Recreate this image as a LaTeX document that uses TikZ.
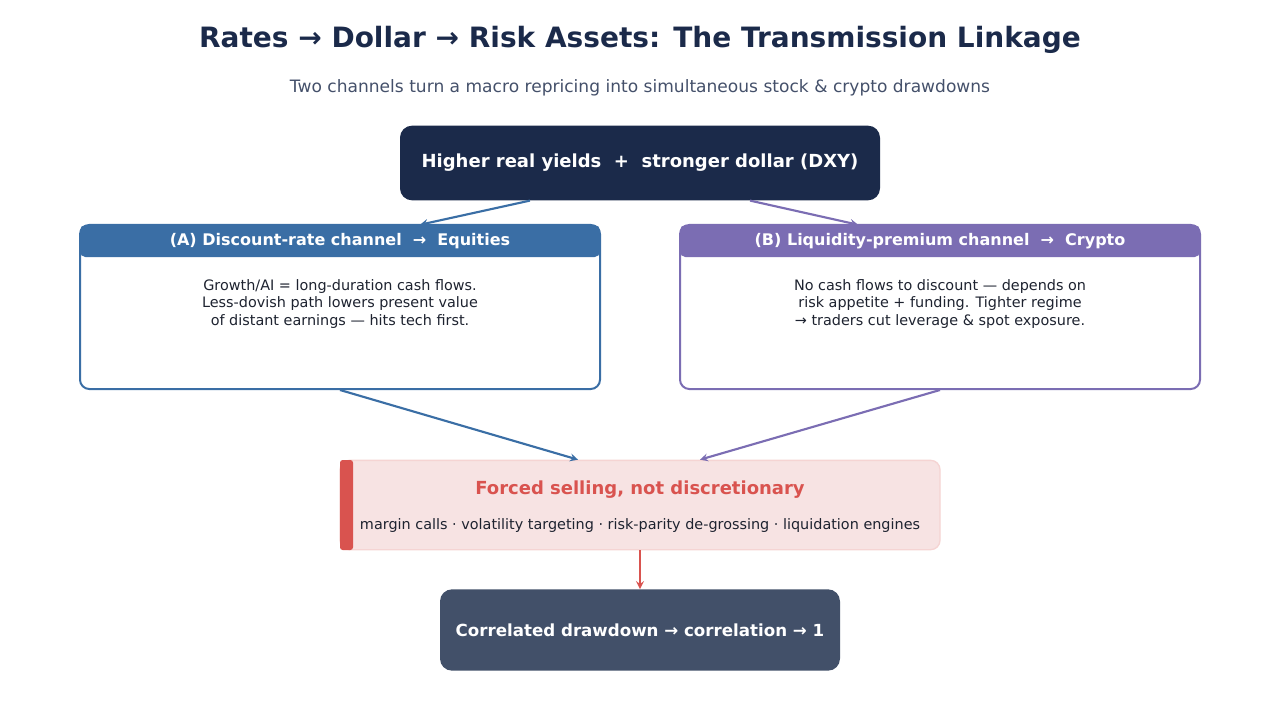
\documentclass[tikz,border=0pt]{standalone}
\usepackage{fontspec}
\setmainfont{DejaVu Sans}
\usetikzlibrary{positioning, calc}
\definecolor{navy}{HTML}{1B2A4A}
\definecolor{slate}{HTML}{425069}
\definecolor{blueA}{HTML}{3A6EA5}
\definecolor{purpleB}{HTML}{7B6DB3}
\definecolor{redF}{HTML}{D9534F}
\definecolor{pinkF}{HTML}{F7E3E3}
\definecolor{subgray}{HTML}{44506A}
\definecolor{ink}{HTML}{1E2330}

\begin{document}
\begin{tikzpicture}
[
	x=0.75pt, y=-0.75pt,
	darkbox/.style={rectangle, rounded corners=9pt, text=white, font=\bfseries\fontsize{13.5}{16}\selectfont, inner sep=0pt},
	card/.style={draw, line width=1.5pt, rectangle, rounded corners=7pt, fill=white, minimum width=390pt, minimum height=123pt, inner sep=0pt},
	cardhead/.style={rectangle, rounded corners=4pt, text=white, font=\bfseries\fontsize{12}{14}\selectfont, minimum width=390pt, minimum height=24pt, inner sep=0pt},
	cardtext/.style={align=center, text=ink, font=\fontsize{10.8}{13.2}\selectfont},
	link/.style={->, >=stealth, line width=1.6pt}
  ]
	\useasboundingbox (0,0) rectangle (1280,720);
	\node[font=\bfseries\fontsize{21}{25}\selectfont, text=navy] (Title) at (640,40) {Rates → Dollar → Risk Assets: The Transmission Linkage};
	\node[font=\fontsize{12.8}{15}\selectfont, text=subgray] (Sub) at (640,88) {Two channels turn a macro repricing into simultaneous stock \& crypto drawdowns};

	\node[darkbox, fill=navy, minimum width=360pt, minimum height=56pt] (Top) at (640,163) {Higher real yields \ +\ \ stronger dollar (DXY)};

	% channel cards
	\node[card, draw=blueA] (CardA) at (340,307) {};
	\node[cardhead, fill=blueA] (HeadA) at (340,241) {(A) Discount-rate channel \ →\ \ Equities};
	\node[cardtext] (TextA) at (340,304) {Growth/AI = long-duration cash flows.\\Less-dovish path lowers present value\\of distant earnings — hits tech first.};

	\node[card, draw=purpleB] (CardB) at (940,307) {};
	\node[cardhead, fill=purpleB] (HeadB) at (940,241) {(B) Liquidity-premium channel \ →\ \ Crypto};
	\node[cardtext] (TextB) at (940,304) {No cash flows to discount — depends on\\risk appetite + funding. Tighter regime\\→ traders cut leverage \& spot exposure.};

	% forced selling
	\node[rectangle, rounded corners=7pt, fill=pinkF, draw=redF!25, line width=1pt, minimum width=450pt, minimum height=67pt] (Forced) at (640,505) {};
	\fill[redF, rounded corners=2pt] (340,460) rectangle (353,550);
	\node[font=\bfseries\fontsize{13.5}{16}\selectfont, text=redF] (ForcedT) at (640,490) {Forced selling, not discretionary};
	\node[font=\fontsize{10.8}{13}\selectfont, text=ink] (ForcedS) at (640,526) {margin calls · volatility targeting · risk-parity de-grossing · liquidation engines};

	\node[darkbox, fill=slate, minimum width=300pt, minimum height=61pt, font=\bfseries\fontsize{12.5}{15}\selectfont] (Bottom) at (640,630) {Correlated drawdown → correlation → 1};

	\draw[link, blueA] ($(Top.south)+(-110,0)$) -- ($(HeadA.north)+(80,0)$);
	\draw[link, purpleB] ($(Top.south)+(110,0)$) -- ($(HeadB.north)+(-82,0)$);
	\draw[link, blueA] (CardA.south) -- ($(Forced.north)+(-62,0)$);
	\draw[link, purpleB] (CardB.south) -- ($(Forced.north)+(60,0)$);
	\draw[link, redF] (Forced.south) -- (Bottom.north);
\end{tikzpicture}
\end{document}
